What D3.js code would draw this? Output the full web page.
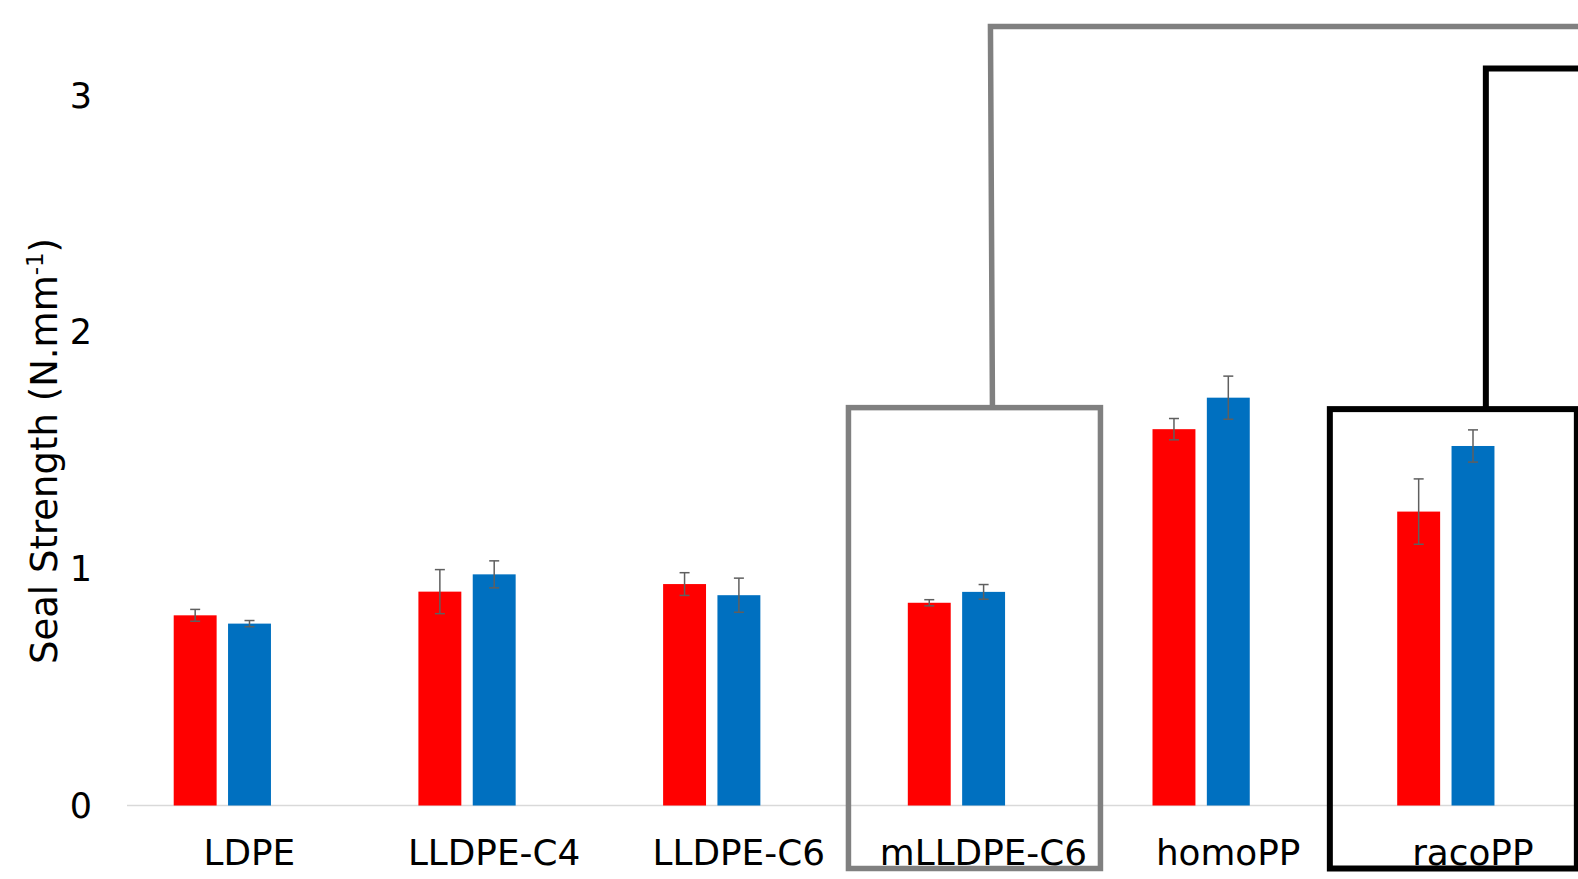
<!DOCTYPE html>
<html>
<head>
<meta charset="utf-8">
<script src="https://cdn.jsdelivr.net/npm/d3@7"></script>
<style>
  body { margin: 0; background: #fff; }
  svg { display: block; font-family: "DejaVu Sans", Verdana, sans-serif; }
</style>
</head>
<body>
<svg width="1578" height="879"></svg>
<script>
// categories and series (third series slot is empty in this view)
const categories = ["LDPE", "LLDPE-C4", "LLDPE-C6", "mLLDPE-C6", "homoPP", "racoPP"];
const seriesKeys = ["s1", "s2", "s3"];
const seriesColors = { s1: "#ff0000", s2: "#0070c0", s3: "#a5a5a5" };
const s1Values = [0.803, 0.903, 0.935, 0.856, 1.589, 1.241];
const s1Errors = [0.025, 0.093, 0.048, 0.013, 0.045, 0.138];
const s2Values = [0.768, 0.976, 0.888, 0.902, 1.722, 1.518];
const s2Errors = [0.013, 0.057, 0.072, 0.031, 0.091, 0.068];
const yTicks = [0, 1, 2, 3];

const width = 1578, height = 879;
const svg = d3.select("svg");

// x: bands run past the right edge (cropped chart)
const x0 = d3.scaleBand().domain(categories).range([127, 127 + 244.7 * categories.length]).padding(0);
const x1 = d3.scaleBand().domain(seriesKeys).range([41, 204]).paddingInner(0.21).paddingOuter(0.105);
const y = d3.scaleLinear().domain([0, 3]).range([805.5, 95]);

const rows = [];
categories.forEach((c, i) => {
  rows.push({ cat: c, key: "s1", value: s1Values[i], err: s1Errors[i] });
  rows.push({ cat: c, key: "s2", value: s2Values[i], err: s2Errors[i] });
});

// baseline
svg.append("line")
  .attr("x1", x0.range()[0]).attr("x2", width)
  .attr("y1", y(0)).attr("y2", y(0))
  .attr("stroke", "#d9d9d9").attr("stroke-width", 1.5);

// bars
svg.append("g").selectAll("rect").data(rows).enter().append("rect")
  .attr("x", d => x0(d.cat) + x1(d.key))
  .attr("y", d => y(d.value))
  .attr("width", x1.bandwidth())
  .attr("height", d => y(0) - y(d.value))
  .attr("fill", d => seriesColors[d.key]);

// error bars
const eb = svg.append("g").attr("stroke", "#5f5f5f").attr("stroke-width", 1.5);
rows.forEach(d => {
  const cx = x0(d.cat) + x1(d.key) + x1.bandwidth() / 2;
  eb.append("line").attr("x1", cx).attr("x2", cx).attr("y1", y(d.value + d.err)).attr("y2", y(d.value - d.err));
  eb.append("line").attr("x1", cx - 5).attr("x2", cx + 5).attr("y1", y(d.value + d.err)).attr("y2", y(d.value + d.err));
  eb.append("line").attr("x1", cx - 5).attr("x2", cx + 5).attr("y1", y(d.value - d.err)).attr("y2", y(d.value - d.err));
});

// y tick labels
svg.append("g").selectAll("text").data(yTicks).enter().append("text")
  .attr("x", 92).attr("y", d => y(d) + 12.5)
  .attr("text-anchor", "end")
  .attr("font-size", 35).attr("fill", "#000")
  .text(d => d);

// category labels
svg.append("g").selectAll("text").data(categories).enter().append("text")
  .attr("x", d => x0(d) + x0.bandwidth() / 2)
  .attr("y", 865)
  .attr("text-anchor", "middle")
  .attr("font-size", 35.8).attr("fill", "#000")
  .text(d => d);

// y axis title
const title = svg.append("text")
  .attr("transform", "translate(57, 451) rotate(-90)")
  .attr("text-anchor", "middle")
  .attr("font-size", 37).attr("fill", "#000");
title.append("tspan").text("Seal Strength (N.mm");
title.append("tspan").attr("font-size", 23).attr("dy", -14).text("-1");
title.append("tspan").attr("dy", 14).text(")");

// annotation boxes with connectors
const grayCx = x0("mLLDPE-C6") + x0.bandwidth() / 2;
const blackCx = x0("racoPP") + x0.bandwidth() / 2;
const boxTop = y(1.68);

svg.append("rect")
  .attr("x", grayCx - 135).attr("y", boxTop)
  .attr("width", 252).attr("height", 868.5 - boxTop)
  .attr("fill", "none").attr("stroke", "#808080").attr("stroke-width", 5.5);
svg.append("path")
  .attr("d", `M${grayCx + 9},${boxTop} L${grayCx + 7},26.5 L${width + 10},26.5`)
  .attr("fill", "none").attr("stroke", "#808080").attr("stroke-width", 5.5);

svg.append("rect")
  .attr("x", blackCx - 143).attr("y", boxTop + 1.5)
  .attr("width", 247).attr("height", 868.5 - boxTop - 1.5)
  .attr("fill", "none").attr("stroke", "#000").attr("stroke-width", 6);
svg.append("path")
  .attr("d", `M${blackCx + 13},${boxTop + 1.5} L${blackCx + 13},68.5 L${width + 10},68.5`)
  .attr("fill", "none").attr("stroke", "#000").attr("stroke-width", 6);
</script>
</body>
</html>
